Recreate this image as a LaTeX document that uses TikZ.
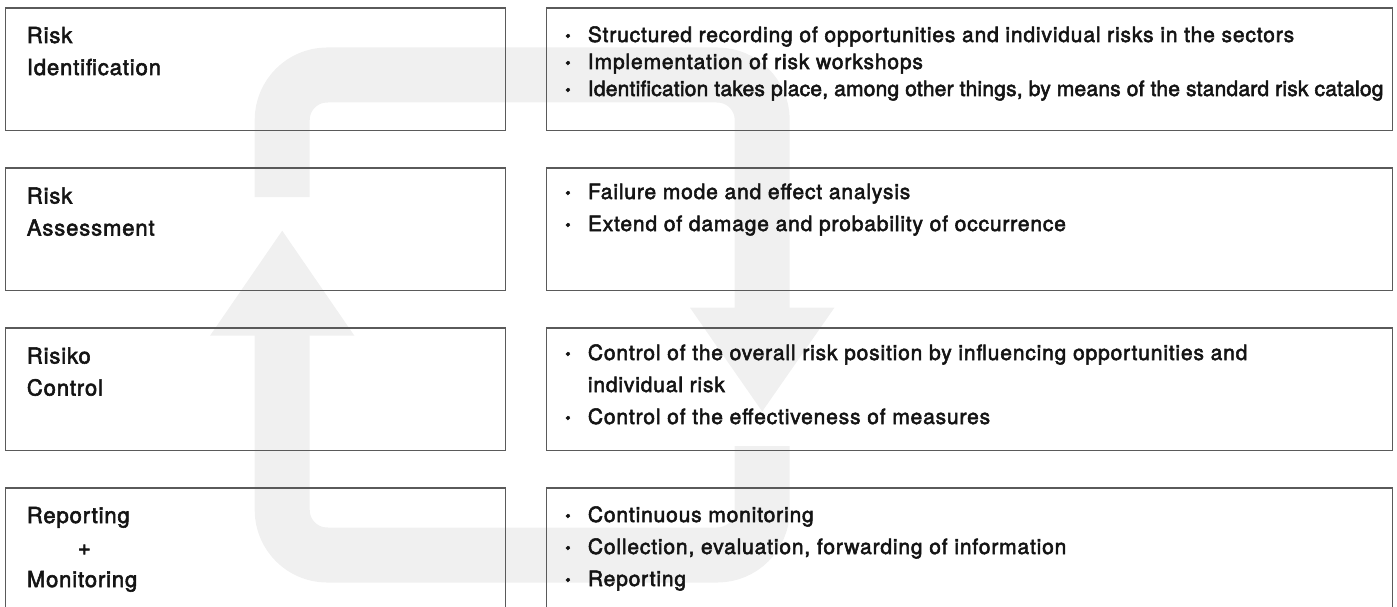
\documentclass[tikz,border=0pt]{standalone}
\usepackage{fontspec}
\newfontfamily\mfont{TeX Gyre Heros}[FakeBold=2.5,LetterSpace=4]
\newfontfamily\nfont{TeX Gyre Heros}[FakeBold=2.5,LetterSpace=1]
\definecolor{bandgray}{HTML}{F0F0F0}
\definecolor{boxline}{HTML}{5A5A5A}
\definecolor{txt}{HTML}{141414}
\newcommand{\bul}{\llap{\makebox[40pt][c]{\raisebox{0.5pt}{\scalebox{0.75}{•}}}}}
\begin{document}
\begin{tikzpicture}[x=1pt,y=-1pt,
  box/.style={draw=boxline,line width=1.3pt,minimum width=500pt,minimum height=122.7pt,inner sep=0pt,anchor=north west},
  rbox/.style={box,minimum width=846pt},
  band/.style={draw=bandgray,line width=55pt,rounded corners=45pt},
  head/.style={fill=bandgray},
  lab/.style={anchor=base west,align=left,inner sep=0pt,text=txt,font={\mfont\fontsize{21}{32}\selectfont}},
  llab/.style={lab,font={\mfont\fontsize{22}{32}\selectfont}},
  tight/.style={font={\mfont\fontsize{21}{27}\selectfont}}]
\useasboundingbox (0,0) rectangle (1397,607);
% background loop arrows
\draw[band] (282.2,197) -- (282.2,75) -- (762.2,75) -- (762.2,308.5);
\fill[head] (690,307.7) -- (834.4,307.7) -- (762.2,411.5) -- cycle;
\draw[band] (762.2,446) -- (762.2,555) -- (282.2,555) -- (282.2,335);
\fill[head] (210,335.7) -- (354.4,335.7) -- (282.2,230.7) -- cycle;
% boxes
\node[box] (l1) at (5,7.3) {};
\node[box] (l2) at (5,167.3) {};
\node[box] (l3) at (5,327.3) {};
\node[box] (l4) at (5,487.3) {};
\node[rbox] (r1) at (546,7.3) {};
\node[rbox] (r2) at (546,167.3) {};
\node[rbox] (r3) at (546,327.3) {};
\node[rbox] (r4) at (546,487.3) {};
% left labels (anchor = baseline of last line)
\node[llab] (t1) at (26.7,75) {Risk\\Identification};
\node[llab] (t2) at (26.7,235.5) {Risk\\Assessment};
\node[llab] (t3) at (26.7,395.5) {Risiko\\Control};
\node[llab] (t4) at (26.7,587) {Reporting\\\hspace*{51pt}+\\Monitoring};
% right descriptions
\node[lab,tight] (s1) at (587.7,96) {\bul Structured recording of opportunities and individual risks in the sectors\\\bul Implementation of risk workshops\\\bul {\nfont Identification takes place, among other things, by means of the standard risk catalog}};
\node[lab] (s2) at (587.7,231) {\bul Failure mode and effect analysis\\\bul Extend of damage and probability of occurrence};
\node[lab] (s3) at (587.7,424) {\bul Control of the overall risk position by influencing opportunities and\\individual risk\\\bul Control of the effectiveness of measures};
\node[lab] (s4) at (587.7,586) {\bul Continuous monitoring\\\bul Collection, evaluation, forwarding of information\\\bul Reporting};
\end{tikzpicture}
\end{document}
